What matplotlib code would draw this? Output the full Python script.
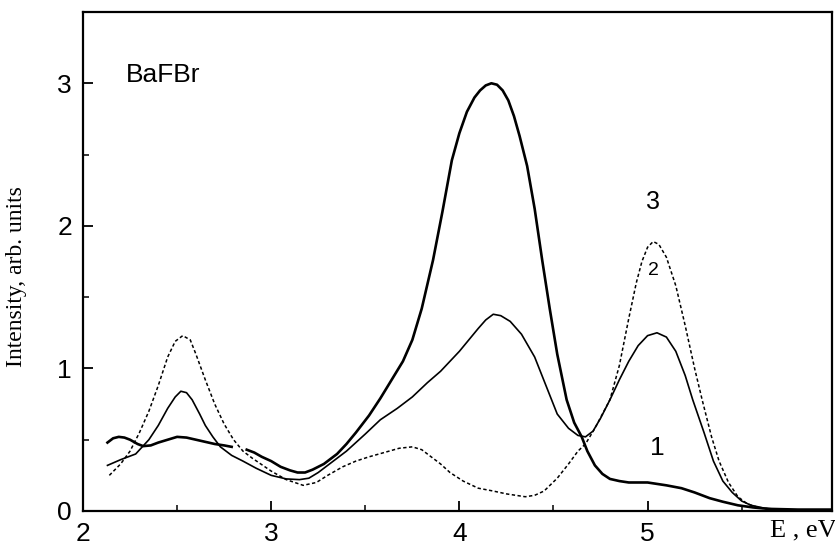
import numpy as np
import matplotlib
matplotlib.use("Agg")
import matplotlib.pyplot as plt
from matplotlib.ticker import MultipleLocator

# curve 1 (thick), drawn in two pieces like in the scan
x1a = [2.13, 2.16, 2.19, 2.22, 2.25, 2.29, 2.32, 2.36, 2.40, 2.45, 2.50, 2.55, 2.60, 2.65, 2.70, 2.75, 2.79]
y1a = [0.48, 0.51, 0.52, 0.515, 0.50, 0.47, 0.455, 0.46, 0.48, 0.50, 0.52, 0.515, 0.50, 0.485, 0.47, 0.46, 0.45]
x1b = [2.87, 2.91, 2.95, 3.00, 3.05, 3.10, 3.14, 3.18, 3.22, 3.28, 3.35, 3.40, 3.45, 3.52, 3.58, 3.64, 3.70,
       3.75, 3.80, 3.86, 3.91, 3.96, 4.00, 4.04, 4.08, 4.11, 4.14, 4.17, 4.20, 4.23, 4.26, 4.29, 4.32,
       4.36, 4.40, 4.44, 4.48, 4.52, 4.57, 4.61, 4.65, 4.68, 4.72, 4.76, 4.80, 4.85, 4.90, 5.00, 5.10,
       5.18, 5.25, 5.33, 5.40, 5.48, 5.56, 5.64, 5.80, 5.98]
y1b = [0.43, 0.41, 0.38, 0.35, 0.31, 0.285, 0.27, 0.27, 0.29, 0.33, 0.40, 0.47, 0.55, 0.67, 0.79, 0.92, 1.05,
       1.20, 1.42, 1.76, 2.10, 2.46, 2.65, 2.80, 2.90, 2.95, 2.985, 3.00, 2.99, 2.95, 2.88, 2.77, 2.63,
       2.42, 2.12, 1.76, 1.42, 1.10, 0.78, 0.62, 0.52, 0.42, 0.32, 0.26, 0.225, 0.21, 0.20, 0.20, 0.18,
       0.16, 0.13, 0.09, 0.065, 0.04, 0.025, 0.015, 0.01, 0.01]

# curve 2 (thin solid)
x2 = [2.13, 2.20, 2.28, 2.35, 2.40, 2.45, 2.49, 2.52, 2.55, 2.58, 2.62, 2.65, 2.69, 2.73, 2.79, 2.85,
      2.92, 3.00, 3.08, 3.15, 3.20, 3.25, 3.32, 3.40, 3.50, 3.58, 3.67, 3.75, 3.83, 3.90, 3.95, 4.00,
      4.05, 4.10, 4.14, 4.18, 4.22, 4.27, 4.33, 4.40, 4.46, 4.52, 4.58, 4.63, 4.67, 4.71, 4.75, 4.80,
      4.85, 4.90, 4.95, 5.00, 5.05, 5.10, 5.15, 5.20, 5.24, 5.30, 5.35, 5.40, 5.45, 5.50, 5.55, 5.62,
      5.70, 5.80, 5.98]
y2 = [0.32, 0.36, 0.40, 0.50, 0.60, 0.72, 0.80, 0.84, 0.83, 0.78, 0.68, 0.60, 0.52, 0.45, 0.39, 0.35,
      0.30, 0.25, 0.225, 0.22, 0.23, 0.27, 0.34, 0.42, 0.54, 0.64, 0.72, 0.80, 0.90, 0.98, 1.05, 1.12,
      1.20, 1.28, 1.34, 1.38, 1.37, 1.33, 1.24, 1.08, 0.88, 0.68, 0.58, 0.53, 0.52, 0.56, 0.65, 0.78,
      0.92, 1.05, 1.16, 1.23, 1.25, 1.22, 1.12, 0.95, 0.78, 0.55, 0.35, 0.21, 0.13, 0.07, 0.04, 0.02,
      0.01, 0.005, 0.005]

# curve 3 (dashed)
x3 = [2.14, 2.20, 2.25, 2.30, 2.35, 2.40, 2.45, 2.49, 2.53, 2.57, 2.60, 2.65, 2.70, 2.75, 2.80, 2.85,
      2.90, 3.00, 3.08, 3.17, 3.24, 3.30, 3.38, 3.45, 3.52, 3.60, 3.68, 3.75, 3.80, 3.85, 3.90, 3.95,
      4.02, 4.10, 4.18, 4.25, 4.35, 4.40, 4.45, 4.52, 4.58, 4.63, 4.67, 4.72, 4.76, 4.80, 4.85, 4.90,
      4.94, 4.97, 5.00, 5.03, 5.06, 5.10, 5.15, 5.20, 5.25, 5.29, 5.34, 5.38, 5.43, 5.48, 5.53, 5.60,
      5.70, 5.80, 5.98]
y3 = [0.25, 0.33, 0.42, 0.55, 0.70, 0.88, 1.08, 1.19, 1.23, 1.20, 1.10, 0.92, 0.75, 0.61, 0.50, 0.42,
      0.37, 0.28, 0.22, 0.18, 0.20, 0.25, 0.31, 0.35, 0.38, 0.41, 0.44, 0.45, 0.43, 0.38, 0.33, 0.27,
      0.21, 0.16, 0.14, 0.12, 0.10, 0.11, 0.14, 0.23, 0.33, 0.42, 0.47, 0.58, 0.68, 0.78, 1.02, 1.35,
      1.60, 1.75, 1.85, 1.89, 1.87, 1.78, 1.58, 1.30, 1.00, 0.78, 0.52, 0.35, 0.20, 0.10, 0.05, 0.02,
      0.01, 0.005, 0.005]

xticks = [2, 3, 4, 5]
yticks = [0, 1, 2, 3]

plt.rcParams['font.family'] = ['Liberation Sans', 'DejaVu Sans']

fig = plt.figure(figsize=(8.35, 5.49), dpi=100)
ax = fig.add_axes([83 / 835, 1 - 511 / 549, 749 / 835, 499 / 549])

ax.plot(x1a, y1a, color='black', lw=1.9)
ax.plot(x1b, y1b, color='black', lw=1.9)
ax.plot(x2, y2, color='black', lw=1.2)
ax.plot(x3, y3, color='black', lw=1.1, linestyle=(0, (2.2, 1.6)))

ax.set_xlim(2, 5.98)
ax.set_ylim(0, 3.5)
ax.set_xticks(xticks)
ax.set_yticks(yticks)
ax.xaxis.set_minor_locator(MultipleLocator(0.5))
ax.yaxis.set_minor_locator(MultipleLocator(0.5))
ax.tick_params(which='major', direction='in', length=7, width=1.3, labelsize=19)
ax.tick_params(which='minor', direction='in', length=4, width=1.1)
ax.tick_params(axis='x', which='major', pad=8)
ax.tick_params(axis='y', which='major', pad=8)
ax.tick_params(top=False, right=False, which='both')
for s in ax.spines.values():
    s.set_linewidth(1.6)

ax.set_ylabel('Intensity, arb. units', family=['Liberation Serif'], fontsize=17)
ax.yaxis.set_label_coords(-0.075, 0.47)

fig.text(126 / 835, 1 - 75 / 549, 'BaFBr', fontsize=19, va='center')
fig.text(770 / 835, 1 - 530 / 549, 'E , eV', family=['Liberation Serif'], fontsize=19, va='center')

ax.text(5.03, 2.17, '3', fontsize=18, ha='center', va='center')
ax.text(5.03, 1.69, '2', fontsize=14, ha='center', va='center')
ax.text(5.05, 0.44, '1', fontsize=19, ha='center', va='center')

fig.savefig('out.png', dpi=100)
